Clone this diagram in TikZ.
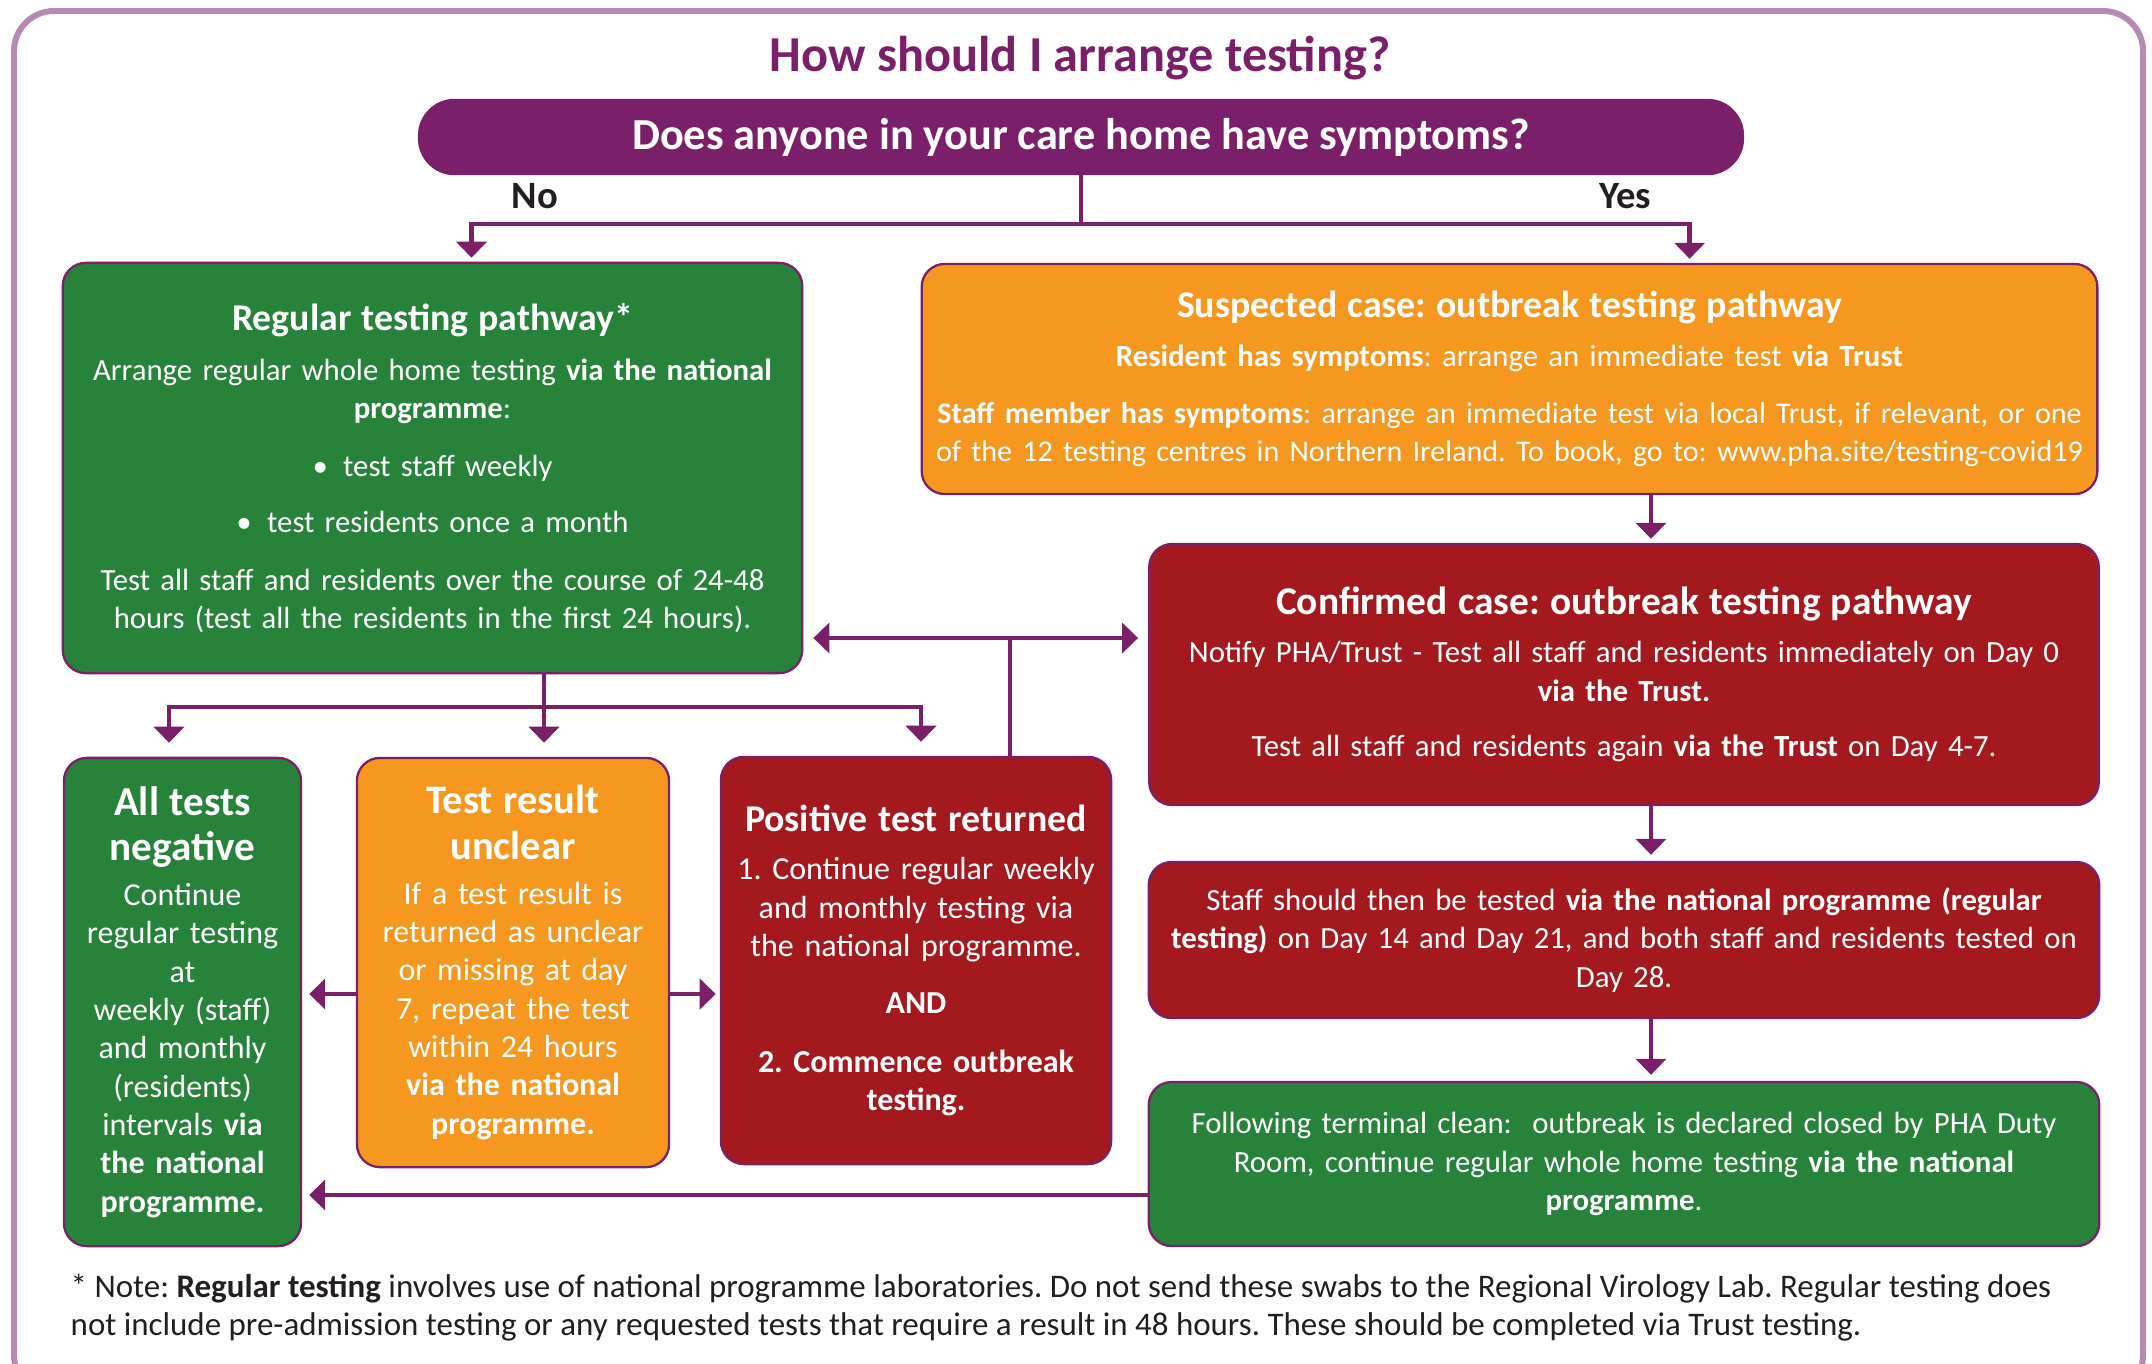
\documentclass[tikz,border=0pt]{standalone}
\usepackage{fontspec}
\setmainfont{Carlito}
\usetikzlibrary{arrows.meta,positioning}
\definecolor{hpurple}{HTML}{7B1F6B}
\definecolor{hframe}{HTML}{B68AB3}
\definecolor{hgreen}{HTML}{27823A}
\definecolor{horange}{HTML}{F6981F}
\definecolor{hred}{HTML}{A3191E}
\definecolor{hgrey}{HTML}{231F20}
\newcommand{\boxtitle}[1]{{\fontsize{10.75}{13}\selectfont\bfseries #1}}

\tikzset{
  box/.style={draw=hpurple, line width=0.65pt, rounded corners=0.23cm, align=center,
    text=white, inner sep=0pt, font=\fontsize{9.1}{10.9}\selectfont},
  widebox/.style={box, font=\fontsize{8.75}{10.9}\selectfont},
  conn/.style={draw=hpurple, line width=1.35pt},
  arr/.style={conn, -{Triangle[width=0.3cm,length=0.16cm]}, shorten >=0.04cm},
  lbl/.style={font=\fontsize{11}{13}\selectfont\bfseries, text=hgrey},
}

\begin{document}
\frenchspacing
\begin{tikzpicture}[x=0.01cm,y=-0.01cm]
		\useasboundingbox (0,0) rectangle (2152,1363);
		
		% frame and heading
		\draw[hframe, line width=1.7pt, rounded corners=0.4cm] (14,11) rectangle (2143,1395);
		\node[text=hpurple, font=\fontsize{14.3}{16}\selectfont\bfseries] (title) at (1080,58) {How should I arrange testing?};
		\node[fill=hpurple, draw=hpurple, rounded corners=0.36cm, minimum width=13.24cm, minimum height=0.75cm,
			text=white, font=\fontsize{12.6}{14}\selectfont\bfseries] (q) at (1081,137) {Does anyone in your care home have symptoms?};
		\node[lbl] (no) at (535,196) {No};
		\node[lbl] (yes) at (1625,196) {Yes};
		
		% upper boxes
		\node[widebox, fill=hgreen, minimum width=7.39cm, minimum height=4.1cm, text width=7.39cm] (reg) at (432.5,468) {
			\boxtitle{Regular testing pathway*}\\[3.3pt]
			Arrange regular whole home testing \textbf{via the national}\\
			\textbf{programme}:\\[5.6pt]
			•\enspace test staff weekly\\[5pt]
			•\enspace test residents once a month\\[5.6pt]
			Test all staff and residents over the course of 24-48\\
			hours (test all the residents in the first 24 hours).};
		\node[widebox, fill=horange, minimum width=11.75cm, minimum height=2.3cm, text width=11.75cm] (susp) at (1509.5,379) {
			\boxtitle{Suspected case: outbreak testing pathway}\\[2.8pt]
			\textbf{Resident has symptoms}: arrange an immediate test \textbf{via Trust}\\[5.3pt]
			{\fontsize{8.55}{10.9}\selectfont\textbf{Staff member has symptoms}: arrange an immediate test via local Trust, if relevant, or one\\
			of the 12 testing centres in Northern Ireland. To book, go to: www.pha.site/testing-covid19}};
		\node[widebox, fill=hred, minimum width=9.49cm, minimum height=2.61cm, text width=9.49cm] (conf) at (1624,674.5) {
			{\fontsize{11.2}{13}\selectfont\bfseries Confirmed case: outbreak testing pathway}\\[2.8pt]
			Notify PHA/Trust - Test all staff and residents immediately on Day 0\\
			\textbf{via the Trust.}\\[5pt]
			Test all staff and residents again \textbf{via the Trust} on Day 4-7.};
		\node[widebox, fill=hred, minimum width=9.5cm, minimum height=1.56cm, text width=9.5cm] (staff) at (1624,940) {
			Staff should then be tested \textbf{via the national programme (regular}\\
			\textbf{testing)} on Day 14 and Day 21, and both staff and residents tested on\\
			Day 28.};
		\node[widebox, fill=hgreen, minimum width=9.5cm, minimum height=1.64cm, text width=9.5cm] (follow) at (1624,1164) {
			Following terminal clean:\ \ outbreak is declared closed by PHA Duty\\
			Room, continue regular whole home testing \textbf{via the national}\\
			\textbf{programme}.};
		
		% result boxes
		\node[box, fill=hgreen, minimum width=2.37cm, minimum height=4.88cm, text width=2.37cm] (neg) at (182.5,1002) {
			{\fontsize{11.7}{12.8}\selectfont\bfseries All tests\\[1.9pt] negative}\\[1.9pt]
			Continue\\ regular testing\\ at\\ weekly (staff)\\ and monthly\\ (residents)\\
			intervals \textbf{via}\\ \textbf{the national}\\ \textbf{programme.}};
		\node[box, fill=horange, minimum width=3.12cm, minimum height=4.09cm, text width=3.12cm] (unclear) at (513,962.5) {
			{\fontsize{11.5}{12.8}\selectfont\bfseries Test result\\[1.9pt] unclear}\\[1.9pt]
			If a test result is\\ returned as unclear\\ or missing at day\\ 7, repeat the test\\ within 24 hours\\
			\textbf{via the national}\\ \textbf{programme.}};
		\node[box, fill=hred, minimum width=3.9cm, minimum height=4.07cm, text width=3.9cm] (pos) at (916,960.5) {
			\boxtitle{Positive test returned}\\[2.8pt]
			1. Continue regular weekly\\ and monthly testing via\\ the national programme.\\[5.3pt]
			\textbf{AND}\\[5.9pt]
			\textbf{2. Commence outbreak}\\ \textbf{testing.}};
		
		\node[anchor=west, align=left, text=hgrey, inner sep=0pt, font=\fontsize{9.37}{10.8}\selectfont] (note) at (70,1308) {
			* Note: \textbf{Regular testing} involves use of national programme laboratories. Do not send these swabs to the Regional Virology Lab. Regular testing does\\
			not include pre-admission testing or any requested tests that require a result in 48 hours. These should be completed via Trust testing.};
		
		% connectors
		\coordinate (fork) at (1081,224);
		\draw[conn] (q.south) -- (fork);
		\draw[arr] (fork) -| ([xshift=0.39cm]reg.north);
		\draw[arr] (fork) -| ([xshift=1.8cm]susp.north);
		
		\coordinate (chain) at (1651,0);
		\draw[arr] (susp.south -| chain) -- (conf.north -| chain);
		\draw[arr, shorten >=0.06cm] (conf.south -| chain) -- (staff.north -| chain);
		\draw[arr, shorten >=0.06cm] (staff.south -| chain) -- (follow.north -| chain);
		
		\coordinate (mid) at (1010,638);
		\draw[conn] (pos.north -| mid) -- (mid);
		\draw[arr, {Triangle[width=0.3cm,length=0.16cm]}-{Triangle[width=0.3cm,length=0.16cm]},
			shorten <=0.1cm, shorten >=0.1cm] (reg.east |- mid) -- (conf.west |- mid);
		
		\coordinate (split) at (544,707);
		\draw[conn] (reg.south -| split) -- (split);
		\draw[arr, shorten >=0.14cm] (split) -| ([xshift=-0.135cm]neg.north);
		\draw[arr, shorten >=0.14cm] (split) -- (unclear.north -| split);
		\draw[arr, shorten >=0.14cm] (split) -| ([xshift=0.05cm]pos.north);
		
		\coordinate (side) at (0,994);
		\draw[arr, shorten >=0.07cm] (unclear.west |- side) -- (neg.east |- side);
		\draw[arr] (unclear.east |- side) -- (pos.west |- side);
		
		\coordinate (back) at (0,1195);
		\draw[arr, shorten >=0.07cm] (follow.west |- back) -- (neg.east |- back);
		
	\end{tikzpicture}
\end{document}
